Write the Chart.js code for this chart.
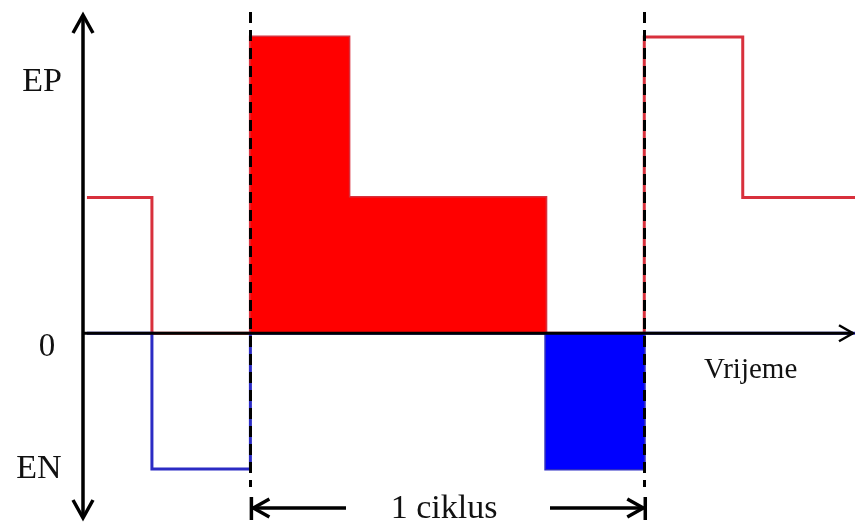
<!DOCTYPE html>
<html>
<head>
<meta charset="utf-8">
<script src="https://cdn.jsdelivr.net/npm/chart.js@4.4.0/dist/chart.umd.min.js"></script>
<style>
    html, body { margin: 0; padding: 0; background: #ffffff; }
    #wrap { width: 855px; height: 527px; }
</style>
</head>
<body>
<div id="wrap"><canvas id="ciklusChart"></canvas></div>
<script>
// trenuci promjene (1 jedinica = cetvrtina ciklusa)
const vrijeme = [0.04, 0.7, 1.7, 2.7, 4.7, 5.7, 6.7, 7.84];
const pozitivno = [1, 0, 2.18, 1, 0, 2.18, 1, 1];
const negativno = [0, -1, 0, 0, -1, 0, 0, 0];

// popunjeni dio - jedan ciklus
const ciklusVrijemeEP = [1.7, 2.7, 4.7];
const ciklusEP = [2.18, 1, 1];
const ciklusVrijemeEN = [4.7, 5.7];
const ciklusEN = [-1, -1];

// isprekidane granice ciklusa
const granice = [1.7, 5.7];

// oznake osi
const yOznake = ['EP', '0', 'EN'];
const yOznakeVrijednosti = [1.85, -0.1, -1.0];
const xOznaka = 'Vrijeme';
const ciklusOznaka = '1 ciklus';

const toPoints = (xs, ys) => xs.map((x, i) => ({ x: x, y: ys[i] }));

const arrowHead = (ctx, x, y, dx, dy, nx, ny) => {
    ctx.beginPath();
    ctx.moveTo(x + dx + nx, y + dy + ny);
    ctx.lineTo(x, y);
    ctx.lineTo(x + dx - nx, y + dy - ny);
    ctx.stroke();
};

const dijagramPlugin = {
    id: 'dijagram',
    afterDatasetsDraw: (chart) => {
        const ctx = chart.ctx;
        const xs = chart.scales.x;
        const ys = chart.scales.y;
        const area = chart.chartArea;
        const x0 = xs.getPixelForValue(0);
        const y0 = ys.getPixelForValue(0);

        ctx.save();
        ctx.strokeStyle = '#000000';
        ctx.lineCap = 'butt';

        // isprekidane linije
        ctx.lineWidth = 3;
        ctx.setLineDash([11, 7]);
        granice.forEach(g => {
            const px = Math.round(xs.getPixelForValue(g)) + 0.5;
            ctx.beginPath();
            ctx.moveTo(px, area.top - 2);
            ctx.lineTo(px, 487);
            ctx.stroke();
        });
        ctx.setLineDash([]);

        // vertikalna os
        ctx.lineWidth = 3.5;
        ctx.beginPath();
        ctx.moveTo(x0, area.top + 1);
        ctx.lineTo(x0, area.bottom);
        ctx.stroke();
        arrowHead(ctx, x0, area.top + 1, 0, 18, 10, 0);
        arrowHead(ctx, x0, area.bottom, 0, -18, 10, 0);

        // horizontalna os
        ctx.lineWidth = 3.2;
        ctx.beginPath();
        ctx.moveTo(x0, y0);
        ctx.lineTo(area.right - 2, y0);
        ctx.stroke();
        ctx.lineWidth = 2.5;
        arrowHead(ctx, area.right - 2, y0, -14, 0, 0, 8);

        // strelice za 1 ciklus
        const gL = xs.getPixelForValue(granice[0]) + 1;
        const gR = xs.getPixelForValue(granice[1]) + 1;
        const ay = 508;
        ctx.lineWidth = 3.5;
        ctx.beginPath();
        ctx.moveTo(gL, ay - 11); ctx.lineTo(gL, ay + 12);
        ctx.moveTo(gR, ay - 11); ctx.lineTo(gR, ay + 12);
        ctx.moveTo(gL + 2, ay); ctx.lineTo(346, ay);
        ctx.moveTo(550, ay); ctx.lineTo(gR - 2, ay);
        ctx.stroke();
        arrowHead(ctx, gL + 2, ay, 16, 0, 0, 9);
        arrowHead(ctx, gR - 2, ay, -16, 0, 0, 9);

        // tekst
        ctx.fillStyle = '#111111';
        ctx.textBaseline = 'middle';
        ctx.textAlign = 'center';
        yOznake.forEach((t, i) => {
            ctx.font = (t === '0' ? '33px' : '34px') + ' "Liberation Serif", "Times New Roman", serif';
            const px = t === '0' ? 47 : (t === 'EP' ? 42 : 39);
            ctx.fillText(t, px, ys.getPixelForValue(yOznakeVrijednosti[i]));
        });
        ctx.font = '29px "Liberation Serif", "Times New Roman", serif';
        ctx.fillText(xOznaka, xs.getPixelForValue(6.78), ys.getPixelForValue(-0.27));
        ctx.font = '34px "Liberation Serif", "Times New Roman", serif';
        ctx.fillText(ciklusOznaka, 444, ay + 1);
        ctx.restore();
    }
};

const canvas = document.getElementById('ciklusChart');
new Chart(canvas.getContext('2d'), {
    type: 'line',
    data: {
        datasets: [
            {
                label: 'EP ciklus',
                data: toPoints(ciklusVrijemeEP, ciklusEP),
                stepped: true,
                borderWidth: 0,
                borderColor: 'rgba(0,0,0,0)',
                backgroundColor: '#ff0000',
                fill: 'origin',
                pointRadius: 0,
                order: 1
            },
            {
                label: 'EN ciklus',
                data: toPoints(ciklusVrijemeEN, ciklusEN),
                stepped: true,
                borderWidth: 0,
                borderColor: 'rgba(0,0,0,0)',
                backgroundColor: '#0000ff',
                fill: 'origin',
                pointRadius: 0,
                order: 2
            },
            {
                label: 'EN',
                data: toPoints(vrijeme, negativno),
                stepped: true,
                borderWidth: 3,
                borderColor: '#2b2bc4',
                fill: false,
                pointRadius: 0,
                order: 3
            },
            {
                label: 'EP',
                data: toPoints(vrijeme, pozitivno),
                stepped: true,
                borderWidth: 3,
                borderColor: '#d8303c',
                fill: false,
                pointRadius: 0,
                order: 4
            }
        ]
    },
    options: {
        responsive: true,
        maintainAspectRatio: false,
        animation: false,
        layout: {
            padding: { left: 83, top: 14, right: 0, bottom: 9 }
        },
        plugins: {
            legend: { display: false },
            tooltip: { enabled: false }
        },
        scales: {
            x: { type: 'linear', min: 0, max: 7.84, display: false },
            y: { type: 'linear', min: -1.36, max: 2.35, display: false }
        }
    },
    plugins: [dijagramPlugin]
});
</script>
</body>
</html>
